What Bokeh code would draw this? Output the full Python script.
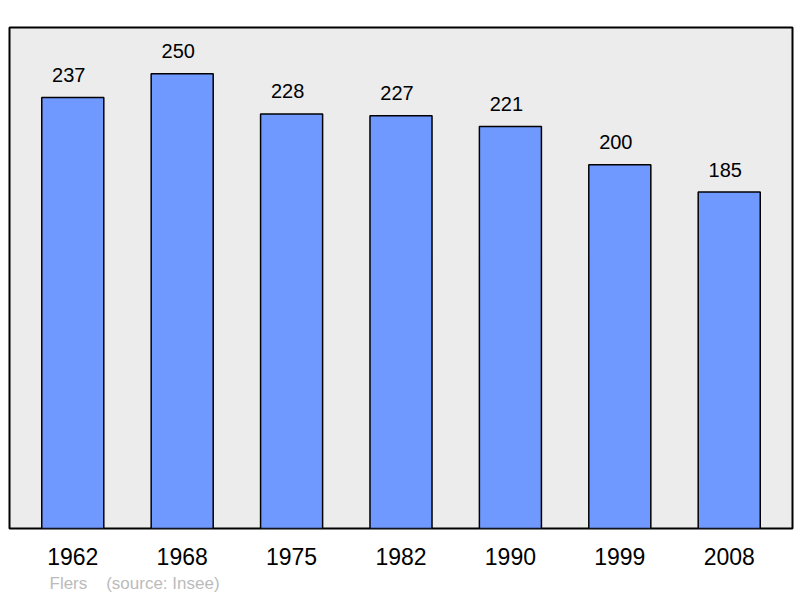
from bokeh.plotting import figure
from bokeh.models import ColumnDataSource, FactorRange, Range1d, Title
from bokeh.embed import file_html
from bokeh.resources import INLINE
from bokeh.core.properties import value

years = ["1962", "1968", "1975", "1982", "1990", "1999", "2008"]
population = [237, 250, 228, 227, 221, 200, 185]
labels = [str(v) for v in population]

src = ColumnDataSource(data=dict(x=years, top=population, label=labels))

p = figure(frame_width=783, frame_height=501, output_backend="svg", toolbar_location=None,
           x_range=FactorRange(factors=years, range_padding=0.0224),
           y_range=Range1d(0, 275.5),
           min_border_left=9, min_border_right=2, min_border_top=27, min_border_bottom=2)

p.background_fill_color = "#ececec"
p.border_fill_color = "white"
p.outline_line_color = "black"
p.outline_line_width = 2
p.xgrid.visible = False
p.ygrid.visible = False
p.yaxis.visible = False

p.vbar(x="x", top="top", width=0.567, source=src, fill_color="#7099ff",
       line_color="black", line_width=1.5)

p.text(x="x", y="top", text="label", source=src, text_align="center",
       text_baseline="middle", x_offset=-4, y_offset=-22.5,
       text_font=value("Liberation Sans"),
       text_font_size="20px", text_color="black")

ax = p.xaxis[0]
ax.axis_line_color = None
ax.major_tick_line_color = None
ax.minor_tick_line_color = None
ax.major_tick_out = 0
ax.major_tick_in = 0
ax.major_label_standoff = 19
ax.major_label_text_font = "Liberation Sans"
ax.major_label_text_font_size = "23px"
ax.major_label_text_color = "black"

footer = Title(text="Flers\u00a0\u00a0\u00a0\u00a0(source: Insee)", align="left", offset=40,
               text_font="Liberation Sans", text_font_size="17px",
               text_font_style="normal", text_color="#bbbbbb", standoff=8)
p.add_layout(footer, "below")

open("out.html", "w").write(file_html(p, INLINE))
